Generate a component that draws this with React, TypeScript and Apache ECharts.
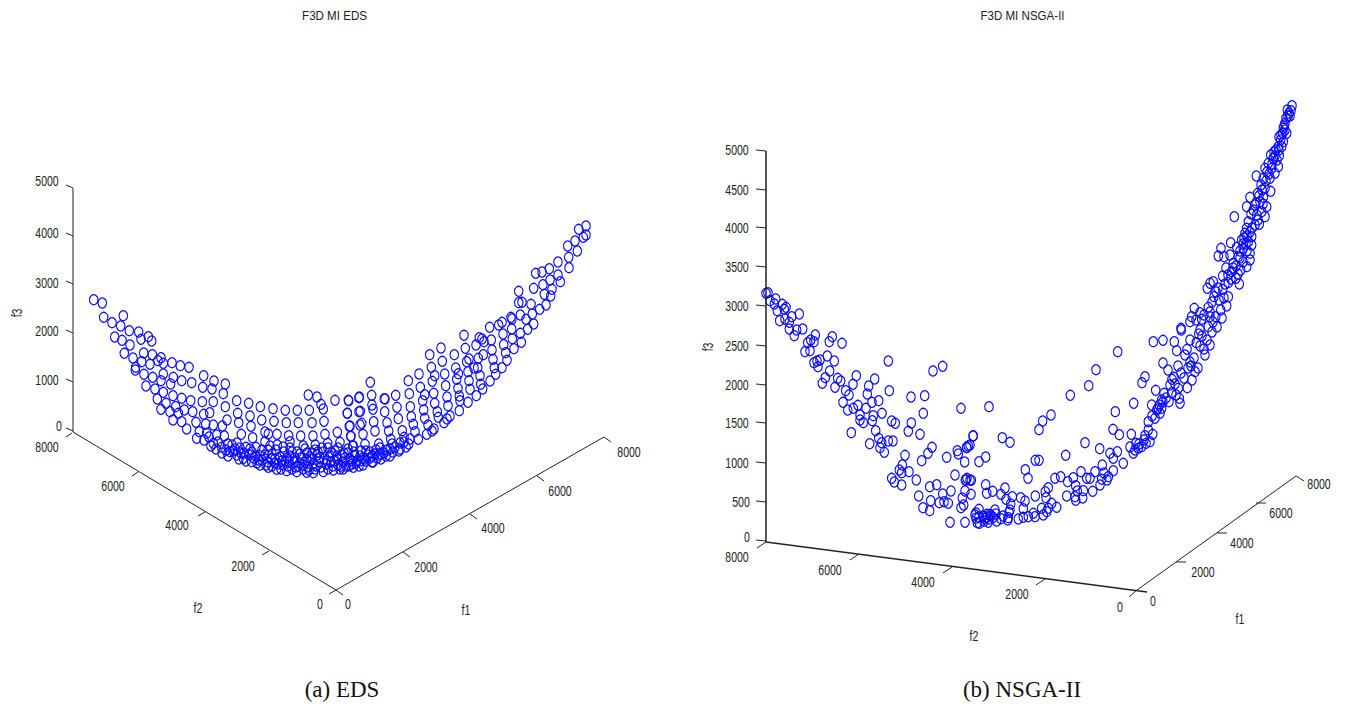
import React, { useEffect, useRef } from "react";
import * as echarts from "echarts";

// Panel (a): EDS. Points as projected onto the page plane of the 3-D view.
const edsUpper: number[][] = [
[93.7,299.7],[102.3,303],[103.7,317.3],[123.3,315.7],[112,322.7],[120.7,326],[129.3,330.7],[138.7,332],[148.3,336.7],[141,339.3],[151.7,341],[114.7,337],[122,340.3],[130,345],[124.3,353.3],[133,358],[143.7,353],[152.3,354.7],[161,357.7],[141.7,361.7],[150,364.3],[163.3,363.3],[172,362.7],[180.3,365.7],[189,367.3],[135.7,367.3],[158,360.7],
[135.3,370],[144,374.3],[152.7,377.3],[163.3,374],[173.3,377.3],[181.7,380.7],[191.7,382.7],[203.7,375.7],[214,381],[225.3,384],[146,386],[161,380.7],[170.7,384],[202.7,387.3],[212,389],[223.3,393.7],[155,389],[163.3,392.3],[173,395.7],[181.7,398.3],[190.7,400.7],[202.3,401.7],[213.3,401.7],[157.3,399],[166,403.3],[175.7,406.7],[184.3,410],[192.7,411.7],[203.7,414.3],[209.7,412.7],[225.3,406.7],[236.7,400.7],[248.7,403.3],[260.3,406.7],[273,408.7],[285.3,410.3],[297.3,410.3],[309.3,410.3],[308.3,395],[317,397],[321,404.3],[323.3,409],[335,400.3],[348.7,400.7],[359,397.7],[347.3,413.3],[359,411.7],[161,409.3],[170,411.7],[178.3,413.3],[173,420],[181.7,421.7],[196,422.3],[186.7,429],[205.7,424],[213.3,425],[222.3,426],[227,420],[237.7,413.3],[238.7,422.7],[250,416],[251,426.3],[261.7,420],[274,421.3],[286.3,422.7],[298.3,422.7],[312,422.7],[324,421.3],[350,426],[360,425],[241.3,434.3],[252.7,437.7],[265,432],[268.3,434],[277,434.3],[288.7,435.7],[300.7,436],[313,436],[325,434.3],[337.3,432.3],[351,436.3],[340,442.3],[327.7,443.3],[315.3,445],[353.3,446],[303.3,446],[290,441.7],[277.3,445],[265,441.7],[256,447.3],[246,447.3],[227.7,444],[224.3,436],[216.7,435],[206.7,433.3],[199.3,431.7],[196.7,438.3],[204,440],[213.3,443.3],
];
const edsRight: number[][] = [
[586,226],[578.7,229.3],[586,235],[583.3,237.3],[575,241],[567.7,246],[577.3,251],[568.7,257.3],[569,267.7],[558,262],[549.3,268.7],[542,272],[535.7,273.3],[558,275],[560.3,281.7],[550,280],[543,284.7],[533.7,288.3],[552,289.3],[544.3,294.3],[550.7,296],[518.7,291.3],[518.7,302.7],[522,302.3],[531,304.3],[546,305],[539.7,309.3],[532.3,314],[520.3,315],[511,317.3],[512,319],[526,319.3],[533.7,324],[527.7,329.3],[511.7,329],[502,322.3],[498.7,325],[489.7,327.3],[520.3,333.3],[503,334],[512.3,338.7],[521.3,342.3],[491.3,340],[503.7,344.7],[514,348.7],[464,335.3],[479.3,337.7],[484,341.7],[482,339],[476,345],[465.3,348.3],[492,350],[505.7,352.7],[483.3,354.7],[493,359.3],[507,360.3],[441,348],[429.7,354.7],[454.3,354.7],[442.3,361.3],[466.7,361.7],[469,359],[478.3,358.3],[431.3,367.3],[455.7,368],[477.7,367.7],[474,368],[494.3,367.7],[502,367.7],[495.7,374.3],[419,374],[408.3,380.7],[434.7,375.7],[444.7,374],[432.3,381.3],[458.3,373.7],[456.7,379.3],[468,371.7],[480,375.7],[490,381],[469,380.7],[445.7,385.7],[420.3,387.3],[458,388.3],[470,389.3],[480.7,384.3],[482.7,389],[476.3,395.7],[433.7,393.3],[409.3,393.7],[424.7,394.7],[447,397],[459.3,396],[468,402.3],[460,400.7],[422.7,400.7],[434.7,403.3],[448,405.7],[459.3,410.7],[410.3,406.7],[423.7,410],[437.3,411.7],[411.3,416.7],[424.7,418.3],[438.3,417.3],[450,416],[447,419],[444,422.7],[428,425],[413.3,424.3],[415,431.7],[434,429],[432,431],[426.7,434.3],[418.3,439.3],[408.7,444],[402.3,430.7],[404,437.3],[397,407.3],[395.7,395.3],[398.3,418.7],[384.3,398.7],[385,399],[370.3,382.3],[371.7,395.3],[373,409.3],[373.7,421.7],[375,431],[372,405],[359.3,397],[348.3,400.3],[347.3,413.3],[360.3,411.3],[361.7,423.3],[349.3,426.3],[350.7,436.3],[363,434.3],[384.7,411.7],[387,422.7],[388.7,431],[390.7,439.3],[378.7,444],[365,444.3],[352.7,446],
];
const edsDense: number[][] = [
[221.7,447.3],[230,451.7],[236.7,455],[243.3,458.3],[251.7,461.7],[260,465],[268.3,467.3],[276.7,469.3],[286.7,470.7],[296.7,471.7],[306.7,472.3],[313.3,472.7],[323.3,471.7],[333.3,470],[343.3,469],[353.3,467.3],[363,465],[372,462],[381,459],[390,456],[399,451],[406,447],[216,449],[222,453],[228,456],[233,451],[239,459],[241,453],[246,461],[249,455],[254,458],[257,463],[262,460],[265,455],[268,462],[272,466],[275,459],[278,464],[281,469],[284,452],[285,461],[288,466],[290,456],[292,469],[294,462],[297,452],[298,466],[301,458],[303,469],[305,462],[307,453],[308,467],[311,459],[313,464],[315,469],[317,455],[319,462],[321,467],[323,452],[324,459],[326,464],[328,469],[330,456],[331,462],[333,466],[335,451],[337,459],[338,465],[340,469],[342,455],[343,462],[346,466],[348,453],[350,459],[352,464],[355,456],[357,461],[359,466],[361,451],[363,458],[366,461],[368,455],[370,458],[373,462],[375,454],[377,458],[381,454],[384,453],[387,450],[390,449],[393,452],[345,458],[351,461],[300,463],[310,457],[295,458],[287,458],[280,457],[272,454],[262,450],[252,452],[240,448],[232,445],[268,450],[276,450],[290,448],[305,449],[315,450],[328,448],[338,448],[348,449],[360,456],[370,452],[380,448],[400,449],[400,443],
[211,446],[218,442],[209,437],[226,450],[235,449],[244,453],[256,456],[259,460],[266,465],[271,459],[283,465],[289,462],[296,467],[303,465],[309,470],[316,466],[320,458],[327,461],[334,461],[341,466],[349,466],[356,463],[365,459],[372,456],[379,455],[386,456],[395,447],[404,442],[410,439],[392,444],[275,463],[282,461],[260,456],[250,449],[237,443],[300,454],[312,453],[322,448],[332,453],[344,453],[354,452],[366,451],[376,450],[292,452],[283,447],[270,446],[307,460],[318,452],[337,456],[360,461],
];

// Panel (b): NSGA-II.
const nsgaLeft: number[][] = [
[766,293.3],[768,292.7],[770,300.7],[775.7,299],[774.3,304],[782.3,304.3],[786,307.3],[784.3,309.3],[777.3,310.7],[799.3,314],[791.7,316.7],[785,319],[779.7,320.7],[789.3,322.3],[789.3,329],[796.7,330],[802.7,329],[794.3,335.7],[815.3,335],[832.3,336.7],[810.7,340],[814,341.7],[807.7,342.7],[829.3,341.7],[842,343.3],[810,350.7],[805,351.7],[827.3,356],[820,360],[817,361],[834.3,361],[814,362.7],[818,366.7],[888.3,361],[829.7,371],[942.7,366.3],[933,371],[856.3,375.7],[874.7,379],[825.3,377.7],[837.7,378.3],[840.7,381],[822.3,383.3],[853,384.3],[868.7,386],[835,387.3],[889.3,390.7],[845.7,390.7],[849,395],[867.3,394],[911,397],[924.7,395.7],[878.7,400.7],[872,402.3],[843,402.3],[858,405.3],[853.3,408.3],[866,408.3],[847.7,410],[961,408.3],[989,406.7],[882,413.3],[923.3,413.3],[873.3,415.7],[860,415],[872.3,420.7],[860,420],[863.3,422.7],[891.7,421],[895.3,423.3],[911.3,423],[908.3,431.3],[875.7,430.7],[851.3,432.7],[920,434.3],[973.3,435.7],[1002.3,437.7],[1010,442.3],[878.7,438.3],[888.3,441],[893,441],[869.7,443.7],[881.7,442.7],[880,447.7],[884.3,452.3],[932,447.3],[928,453.3],[921.7,460.7],[905,455.3],[957.3,450.7],[958.3,454],[970,445],[966.7,447.7],[946.7,457.3],[985.7,457],[979,461.7],[964.7,462],[902.3,465],[899.3,470],[901.7,472.7],[909,471.7],[891.7,478.3],[894.3,482],[916.3,480],[901.7,485],[955,475],[967,478.3],[971.3,480.3],[965.3,480],[985.7,484.7],[1005,488],[936.7,484.7],[929.7,486.7],[951,491],[965,491],[986.7,493.3],[992.7,491.3],[1001,494.3],[942.7,494],[971,494.3],[918.7,496],[962.3,498],[1006,499.3],[930.7,500.7],[939.3,502.7],[944,501.7],[948.3,503.3],[963.7,505],[961,507.7],[923,507.7],[929.7,510.7],[979,509.3],[995,510],[975,515],[986.7,514.3],[990,514.3],[1009,512.3],[976,518.3],[985,518.3],[989,519],[993.3,517.3],[996.7,521],[1001,518.7],[950,522.3],[965,522.3],[977.3,522.7],[979.3,523.3],[988.3,522.3],[1007.7,520],
[976,513],[979,517],[983,516],[987,517],[991,516],[984,521],[996,514],[1003,516],
];
const nsgaMiddle: number[][] = [
[1117.7,351.7],[1096,369.7],[1088.7,385.7],[1070.3,395.3],[1051,415],[1042.7,421],[1039,429.7],[1115.3,411.7],[1133.7,403.3],[1153.3,341.7],[1163,340.3],[1174.3,341.7],[1176.7,350.7],[1181.3,330],[1163,363],[1190,321.7],[1187,349.3],[1196.3,342.7],[1198.7,334],[1195,371.7],[1187.3,387.7],[1145,376.7],[1142,382.7],[1155.7,390.3],[1172,379.3],[1174,377.3],[1164,393.3],[1171.7,392.7],[1178.3,388.3],[1179.3,398.3],[1180,403.3],[1169,401.7],[1151.7,405],[1161.7,400],[1159.3,405],[1161.7,408.3],[1156.7,410],[1160,413.3],[1155,418.3],[1148.3,421.7],[1113,429.3],[1119.3,434.7],[1131.3,434.3],[1148.3,430],[1152.7,434.3],[1145,435.7],[1136,443.3],[1146,443.3],[1150,441.7],[1138.3,448.3],[1133.3,453.3],[1141.7,446.7],[1085,442.7],[1099.7,448.7],[1065.7,455.3],[973,436],[968.3,446],[966.7,447.3],[1035.3,460.3],[1039,460.3],[1117.3,451.7],[1110,453.3],[1113.3,458.3],[1123.3,463.3],[1102.3,465],[1025.3,469.7],[1028,478.3],[1095,471.7],[1081,471.7],[1060.7,476.7],[1055,478.3],[1073.3,477.7],[1086.7,478.3],[1090,478.3],[1113.3,470.7],[1108.3,476.7],[1101.7,479.3],[1100,485],[1067.7,481.7],[1075.7,485.7],[970,480],[966,480],[1048.3,487.7],[1045.3,491.7],[1077.3,491],[1083.3,490.7],[1092.7,491.3],[1012.3,496.7],[1020.7,497.7],[1035.3,496],[1066.7,496],[1075,496.7],[1082.7,498],[1046,497.7],[1025,501],[1075.7,500.3],[1010.7,504],[1051.7,503.3],[1056.7,507.3],[1041.7,508.3],[1048.3,508.3],[1023.3,508.7],[1010,510],[1046.7,511.7],[1033.3,513.3],[1018.3,519],[1028.3,516.7],[1035,516.7],[1043.3,515],[1023.3,517.3],[1008.3,517.7],[1130,447],[1168,370],[1178,366],[1190,362],[1185,355],[1170,385],[1184,378],[1192,380],[1198,368],[1205,355],[1200,346],[1207,340],[1212,332],[1204,349],[1210,345],[1217,327],[1222,318],
[1163,402],[1166,398],[1158,408],[1152,416],[1175,384],[1181,373],[1188,368],[1176,395],[1144,440],[1139,444],[1135,450],[1107,480],[1104,473],[1191,366],[1194,358],[1202,336],[1213,322],[1190,340],
];
const nsgaUpper: number[][] = [
[1292,105.7],[1287.3,110],[1291,110.7],[1290,116],[1286,118.3],[1285,123.3],[1283.3,128.3],[1286.7,133.3],[1282.7,133.3],[1280.7,140],[1283.3,141.7],[1278.3,146.7],[1281.7,146.7],[1276,150],[1270.7,155],[1279.3,155.7],[1273.3,158.3],[1268.3,163.3],[1278.3,166.7],[1265,168.3],[1271.7,168.3],[1256.3,176],[1275,173.3],[1270,178.3],[1263.3,178.3],[1261,185],[1270.7,191.3],[1265,188.3],[1257.7,193.3],[1250,197.3],[1263.3,197.3],[1260,201.7],[1246.7,206.7],[1266.7,206.7],[1253.3,210],[1261.7,211.7],[1256.7,215],[1265,216.7],[1234.3,216.7],[1248.3,221.7],[1259.3,224.3],[1246.7,228.3],[1245,233.3],[1251.7,236.7],[1241.7,240],[1248.3,241.7],[1230.7,242.7],[1251.7,245],[1221,248.3],[1243.3,248.3],[1236.7,247.3],[1250,253.3],[1218.3,256],[1230,255],[1224,256.7],[1238.3,256.7],[1250,260],[1233.3,263.3],[1246.7,266.7],[1240.7,270],[1231.7,271.7],[1222.7,276],[1236,278.3],[1239.3,284],[1213.3,281.7],[1228.3,282.7],[1210,283.3],[1207.3,288.3],[1222.7,289.3],[1228.3,296.7],[1214,296.7],[1226.7,306],[1220.7,310],[1208.3,307.3],[1194.3,308.3],[1200,312.7],[1191.7,316.7],[1201.7,319.3],[1210,316.7],[1215.7,316.7],[1181,328.3],[1208.3,326.7],[1200,330],
[1289,113],[1284,126],[1279,137],[1274,152],[1277,160],[1267,172],[1262,190],[1255,205],[1258,220],[1252,228],[1244,238],[1247,251],[1240,258],[1226,268],[1228,275],[1218,288],[1216,292],[1224,298],[1210,312],
[1288,116],[1285,130],[1281,135],[1279,150],[1275,156],[1272,164],[1269,174],[1266,181],[1259,196],[1263,204],[1256,203],[1251,214],[1255,225],[1250,232],[1247,236],[1243,244],[1246,244],[1240,251],[1243,262],[1236,266],[1233,268],[1238,274],[1231,279],[1225,284],[1219,300],[1212,302],[1204,315],[1196,320],
];

// Axis frames, ticks and their texts, in the same projected plane.
const edsAxes: (number[] | null)[] = [[73,188],[73,432],[336,590],[604,437],[611,442]];
const edsTicks: (number[] | null)[] = [
[73,188],[66,185],null,[73,236],[66,233],null,[73,284],[66,281],null,[73,333],[66,330],null,[73,382],[66,379],null,[73,431],[66,428],null,
[72,433],[66,437],null,[138,472],[132,476],null,[205,512],[198,516],null,[269,551],[262,555],null,[336,590],[329,594],null,
[336,590],[343,595],null,[403,552],[410,557],null,[470,514],[477,519],null,[537,476],[544,481],
];
const nsgaAxes: (number[] | null)[] = [[766,151],[766,542],[1147,592]];
const nsgaF1Axis: (number[] | null)[] = [[1137,590],[1296,476],[1304,481]];
const nsgaTicks: (number[] | null)[] = [
[766,151],[756,150],null,[766,190],[756,189],null,[766,228],[756,227],null,[766,267],[756,266],null,[766,306],[756,305],null,[766,346],[756,345],null,[766,385],[756,384],null,[766,423],[756,422],null,[766,463],[756,462],null,[766,502],[756,501],null,[766,541],[756,540],null,
[766,542],[757,548],null,[859,554],[850,560],null,[952,567],[943,573],null,[1045,579],[1036,585],null,[1137,590],[1129,597],null,
[1176,562],[1186,562],null,[1217,533],[1227,533],null,[1256,503],[1266,503],
];
const tickLabels: (number | string)[][] = [
[47,181,"5000"],[47,233,"4000"],[47,283,"3000"],[47,331,"2000"],[47,380,"1000"],[59,426,"0"],
[47,447,"8000"],[113,486,"6000"],[177,525,"4000"],[243,566,"2000"],[320,604,"0"],
[348,604,"0"],[426,567,"2000"],[493,528,"4000"],[560,491,"6000"],[629,452,"8000"],
[198,608,"f2"],[466,610,"f1"],
[737,150,"5000"],[737,190,"4500"],[737,228,"4000"],[737,267,"3500"],[737,306,"3000"],[737,346,"2500"],[737,385,"2000"],[737,423,"1500"],[737,463,"1000"],[741,502,"500"],[747,537,"0"],
[737,557,"8000"],[830,570,"6000"],[923,582,"4000"],[1017,594,"2000"],[1120,607,"0"],
[1153,601,"0"],[1203,572,"2000"],[1242,543,"4000"],[1281,513,"6000"],[1319,484,"8000"],
[974,636,"f2"],[1240,619,"f1"],
];
const rotatedLabels: (number | string)[][] = [[17,313,"f3"],[708,347,"f3"]];
const titles: (number | string)[][] = [[334.5,16,"F3D MI EDS"],[1022.5,16,"F3D MI NSGA-II"]];
const captions: (number | string)[][] = [[342,689,"(a) EDS"],[1022,689,"(b) NSGA-II"]];

const TICK_FONT = "'Liberation Sans', sans-serif";
const BLUE = "#0c0cff";
const INK = "#222";

function pointsSeries(data: number[][], idx: number) {
  return {
    type: "scatter", xAxisIndex: idx, yAxisIndex: idx, data, symbol: "circle", symbolSize: [8.5, 10],
    itemStyle: { color: "rgba(0,0,0,0)", borderColor: BLUE, borderWidth: 1.2, opacity: 1 },
    silent: true,
  };
}
function lineSeries(data: (number[] | null)[], idx: number, width: number) {
  return {
    type: "line", xAxisIndex: idx, yAxisIndex: idx, symbol: "none", connectNulls: false, silent: true,
    data: data.map((d) => d ?? [null, null]),
    lineStyle: { color: "#222", width },
  };
}
const hiddenAxis = (gridIndex: number, min: number, max: number, inverse: boolean) => ({
  type: "value", gridIndex, min, max, inverse, show: false, scale: true,
});
const squeezed = (l: (number | string)[], fontSize: number, scaleX: number, rotation = 0) => ({
  type: "text", x: l[0], y: l[1], scaleX, rotation,
  style: { text: String(l[2]), fontFamily: TICK_FONT, fontSize, fill: INK, align: "center", verticalAlign: "middle" },
});

export default function App() {
  const ref = useRef<HTMLDivElement>(null);
  useEffect(() => {
    const chart = echarts.init(ref.current!, undefined, { renderer: "svg" });
    chart.setOption({
      animation: false,
      backgroundColor: "#fff",
      grid: [
        { left: 0, top: 0, width: 673, height: 708 },
        { left: 673, top: 0, width: 674, height: 708 },
      ],
      xAxis: [hiddenAxis(0, 0, 673, false), hiddenAxis(1, 673, 1347, false)],
      yAxis: [hiddenAxis(0, 0, 708, true), hiddenAxis(1, 0, 708, true)],
      series: [
        lineSeries(edsAxes, 0, 1), lineSeries(edsTicks, 0, 1),
        pointsSeries(edsUpper, 0), pointsSeries(edsRight, 0), pointsSeries(edsDense, 0),
        lineSeries(nsgaAxes, 1, 1.5), lineSeries(nsgaF1Axis, 1, 1), lineSeries(nsgaTicks, 1, 1),
        pointsSeries(nsgaLeft, 1), pointsSeries(nsgaMiddle, 1), pointsSeries(nsgaUpper, 1),
      ],
      graphic: [
        ...tickLabels.map((l) => squeezed(l, 15.5, 0.68)),
        ...rotatedLabels.map((l) => squeezed(l, 15, 0.7, Math.PI / 2)),
        ...titles.map((l) => squeezed(l, 13, 0.89)),
        ...captions.map((l) => ({
          type: "text", x: l[0], y: l[1],
          style: { text: String(l[2]), fontFamily: "'Liberation Serif', serif", fontSize: 23, fill: "#111", align: "center", verticalAlign: "middle" },
        })),
      ],
    });
    return () => chart.dispose();
  }, []);
  return <div ref={ref} style={{ position: "fixed", left: 0, top: 0, width: 1347, height: 708 }} />;
}
